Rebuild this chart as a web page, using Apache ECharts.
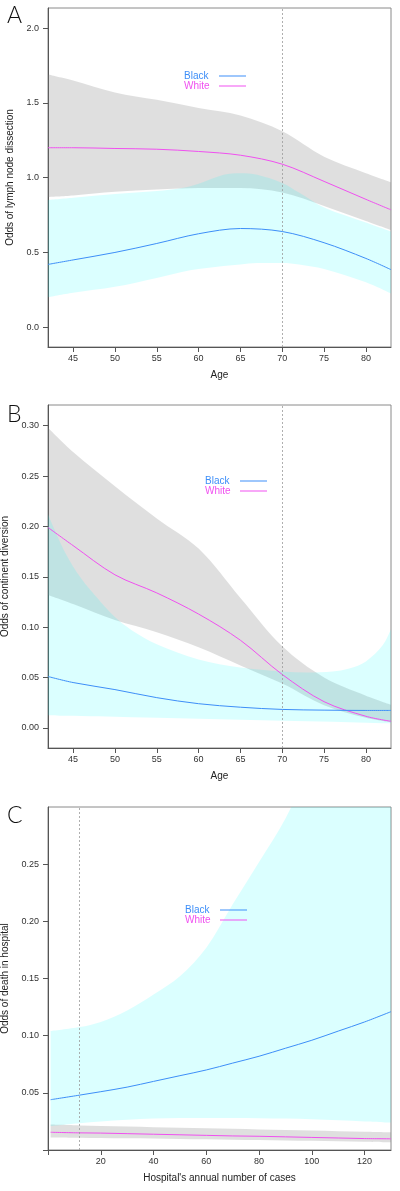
<!DOCTYPE html>
<html>
<head>
<meta charset="utf-8">
<script src="https://cdn.jsdelivr.net/npm/echarts@6/dist/echarts.min.js"></script>
<style>html,body{margin:0;padding:0;background:#fff}#c{width:400px;height:1191px}</style>
</head>
<body>
<div id="c"></div>
<script>
// ---------- Panel A: Odds of lymph node dissection vs Age ----------
const ageA = [42,45,50,55,60,65,70,75,80,83];
const aWhite   = [1.20,1.20,1.195,1.19,1.175,1.15,1.09,0.975,0.855,0.785];
const aWhiteLo = [0.87,0.88,0.905,0.92,0.93,0.93,0.90,0.81,0.71,0.65];
const aWhiteHi = [1.69,1.65,1.57,1.52,1.465,1.415,1.31,1.14,1.03,0.97];
const aBlack   = [0.42,0.45,0.50,0.56,0.625,0.66,0.64,0.565,0.46,0.385];
const ageAband = [42,45,50,55,58,60,63,65,67,70,72,75,80,83];
const aBlackLo = [0.20,0.23,0.27,0.33,0.37,0.39,0.41,0.42,0.43,0.43,0.42,0.39,0.30,0.225];
const aBlackHi = [0.85,0.865,0.89,0.91,0.93,0.96,1.02,1.03,1.02,0.965,0.90,0.80,0.70,0.64];

// ---------- Panel B: Odds of continent diversion vs Age ----------
const ageB = [42,45,50,55,60,65,70,75,80,83];
const bWhite   = [0.199,0.181,0.152,0.134,0.113,0.087,0.053,0.026,0.0115,0.0065];
const bWhiteLo = [0.132,0.123,0.107,0.095,0.080,0.062,0.044,0.0225,0.010,0.0055];
const bWhiteHi = [0.298,0.274,0.240,0.208,0.178,0.129,0.081,0.050,0.032,0.023];
const bBlack   = [0.051,0.045,0.038,0.030,0.024,0.0205,0.0183,0.0176,0.0173,0.0173];
const ageBband = [42,44,46,48,50,52,55,60,65,70,73,76,78,80,82,83];
const bBlackLo = [0.0125,0.012,0.0118,0.0115,0.011,0.0105,0.010,0.009,0.008,0.007,0.0065,0.006,0.0055,0.005,0.0047,0.0045];
const bBlackHi = [0.212,0.175,0.148,0.128,0.110,0.097,0.083,0.068,0.060,0.056,0.055,0.056,0.059,0.066,0.082,0.098];

// ---------- Panel C: Odds of death in hospital vs hospital volume ----------
const volC = [1,12,20,30,40,50,60,70,80,90,100,110,120,130];
const cBlack   = [0.044,0.048,0.051,0.055,0.060,0.065,0.070,0.076,0.082,0.089,0.096,0.104,0.112,0.121];
const cBlackLo = [0.021,0.0235,0.025,0.0265,0.0275,0.028,0.028,0.028,0.0278,0.0275,0.027,0.026,0.025,0.024];
const cBlackHi = [0.104,0.1075,0.112,0.122,0.136,0.152,0.177,0.215,0.252,0.29,0.34,0.40,0.47,0.55];
const cWhite   = [0.0155,0.015,0.0148,0.0143,0.0138,0.0133,0.0128,0.0123,0.012,0.0115,0.011,0.0105,0.010,0.0098];
const cWhiteLo = [0.011,0.0108,0.0105,0.0102,0.010,0.0097,0.0094,0.009,0.0087,0.0083,0.008,0.0076,0.0072,0.0067];
const cWhiteHi = [0.0222,0.0215,0.021,0.0205,0.020,0.0195,0.019,0.0185,0.018,0.0175,0.017,0.0165,0.016,0.0155];

// ---------- Tick labels / titles ----------
const ageTicks = [45,50,55,60,65,70,75,80];
const aYTicks = [0,0.5,1.0,1.5,2.0];
const bYTicks = [0,0.05,0.10,0.15,0.20,0.25,0.30];
const cYTicks = [0,0.05,0.10,0.15,0.20,0.25];
const cYLabels = [0.05,0.10,0.15,0.20,0.25];
const cXTicks = [0,20,40,60,80,100,120];
const cXLabels = [20,40,60,80,100,120];
const panelLetters = ['A','B','C'];
const yTitles = ['Odds of lymph node dissection','Odds of continent diversion','Odds of death in hospital'];
const xTitles = ['Age','Age',"Hospital's annual number of cases"];
const refLines = [70,70,12];
const legendNames = ['Black','White'];

const BLUE = '#3d8ef8', MAG = '#f050f0';
const CYANBAND = 'rgba(0,255,255,0.14)', GRAYBAND = 'rgba(128,128,128,0.25)';
const FONT = '"Liberation Sans", Arial, sans-serif';
const SMOOTH = 0.33;

const grids = [
  {left:48, top:8, width:343, height:339},
  {left:48, top:405, width:343, height:343},
  {left:48, top:807, width:343, height:343}
];
grids.forEach(g => { g.show = true; g.borderColor = '#8a8a8a'; g.borderWidth = 1;
  g.backgroundColor = 'transparent'; g.containLabel = false; g.outerBoundsMode = 'none'; });

function xAx(i, min, max, ticks, labels) {
  return {
    type:'value', gridIndex:i, min:min, max:max,
    axisLine:{show:true, onZero:false, lineStyle:{color:'#555', width:1}},
    axisTick:{show:true, length:5, customValues:ticks, lineStyle:{color:'#555'}},
    axisLabel:{customValues:labels, fontSize:9, color:'#333', margin:7, fontFamily:FONT},
    splitLine:{show:false},
    name:xTitles[i], nameLocation:'middle', nameGap:23,
    nameTextStyle:{fontSize:10, color:'#222', fontFamily:FONT}
  };
}
function yAx(i, min, max, ticks, labels, dec) {
  return {
    type:'value', gridIndex:i, min:min, max:max,
    axisLine:{show:true, onZero:false, lineStyle:{color:'#555', width:1}},
    axisTick:{show:true, length:5, customValues:ticks, lineStyle:{color:'#555'}},
    axisLabel:{customValues:labels, fontSize:9, color:'#333', margin:9, fontFamily:FONT,
      formatter: v => Number(v).toFixed(dec)},
    splitLine:{show:false},
    name:yTitles[i], nameLocation:'middle', nameGap:25,
    nameTextStyle:{fontSize:10, color:'#222', fontFamily:FONT}
  };
}

// Bands: stacked pair (lower, upper-lower). Value stored in dim 0 so that it is the stacked dimension.
function band(id, i, xs, lo, hi, color) {
  const common = {type:'line', xAxisIndex:i, yAxisIndex:i, stack:id, symbol:'none',
    smooth:SMOOTH, silent:true, lineStyle:{opacity:0, width:0}, clip:true,
    encode:{x:1, y:0}};
  return [
    Object.assign({}, common, {name:id+'_lo', data: xs.map((x,k)=>[lo[k], x])}),
    Object.assign({}, common, {name:id+'_hi', data: xs.map((x,k)=>[hi[k]-lo[k], x]),
      areaStyle:{color:color, opacity:1}})
  ];
}
function line(name, i, xs, ys, color, mark) {
  const s = {type:'line', name:name, xAxisIndex:i, yAxisIndex:i, symbol:'none', smooth:SMOOTH,
    silent:true, clip:true,
    data: xs.map((x,k)=>[x, ys[k]]), lineStyle:{color:color, width:1}, itemStyle:{color:color}};
  if (mark !== undefined) {
    s.markLine = {silent:true, symbol:['none','none'], label:{show:false},
      lineStyle:{type:[2,2], color:'#9a9a9a', width:0.8}, data:[{xAxis:mark}]};
  }
  return s;
}

const series = [].concat(
  band('aW',0,ageA,aWhiteLo,aWhiteHi,GRAYBAND),
  band('aB',0,ageAband,aBlackLo,aBlackHi,CYANBAND),
  [line('White',0,ageA,aWhite,MAG), line('Black',0,ageA,aBlack,BLUE,refLines[0])],
  band('bW',1,ageB,bWhiteLo,bWhiteHi,GRAYBAND),
  band('bB',1,ageBband,bBlackLo,bBlackHi,CYANBAND),
  [line('White',1,ageB,bWhite,MAG), line('Black',1,ageB,bBlack,BLUE,refLines[1])],
  band('cW',2,volC,cWhiteLo,cWhiteHi,GRAYBAND),
  band('cB',2,volC,cBlackLo,cBlackHi,CYANBAND),
  [line('White',2,volC,cWhite,MAG), line('Black',2,volC,cBlack,BLUE,refLines[2])]
);

function legend(left, top) {
  return {left:left, top:top, padding:0, orient:'vertical', align:'right', icon:'rect',
    itemWidth:27, itemHeight:1, itemGap:0, selectedMode:false,
    itemStyle:{opacity:1},
    formatter: n => (n === 'Black' ? '{b|' : '{w|') + n + '}',
    textStyle:{fontSize:10, lineHeight:9.4, fontFamily:FONT,
      rich:{
        b:{width:30, align:'left', color:BLUE, fontSize:10, lineHeight:9.4, fontFamily:FONT},
        w:{width:30, align:'left', color:MAG, fontSize:10, lineHeight:9.4, fontFamily:FONT}
      }},
    data: legendNames.map(n => ({name:n, itemStyle:{color: n === 'Black' ? BLUE : MAG}}))};
}

const letterTops = [4, 403, 804];
const option = {
  animation:false,
  backgroundColor:'#fff',
  grid: grids,
  xAxis: [xAx(0,42,83,ageTicks,ageTicks), xAx(1,42,83,ageTicks,ageTicks), xAx(2,0,130,cXTicks,cXLabels)],
  yAxis: [yAx(0,-0.132,2.134,aYTicks,aYTicks,1), yAx(1,-0.02,0.3206,bYTicks,bYTicks,2), yAx(2,0,0.30,cYTicks,cYLabels,2)],
  legend: [legend(184,71), legend(205,476), legend(185,905)],
  graphic: panelLetters.map((t,i)=>({type:'text', left:7, top:letterTops[i],
    style:{text:t, fontSize:23, fontFamily:'Lato, "Open Sans", sans-serif', fontWeight:300, fill:'#111'}})),
  series: series
};
const chart = echarts.init(document.getElementById('c'));
chart.setOption(option);
</script>
</body>
</html>
